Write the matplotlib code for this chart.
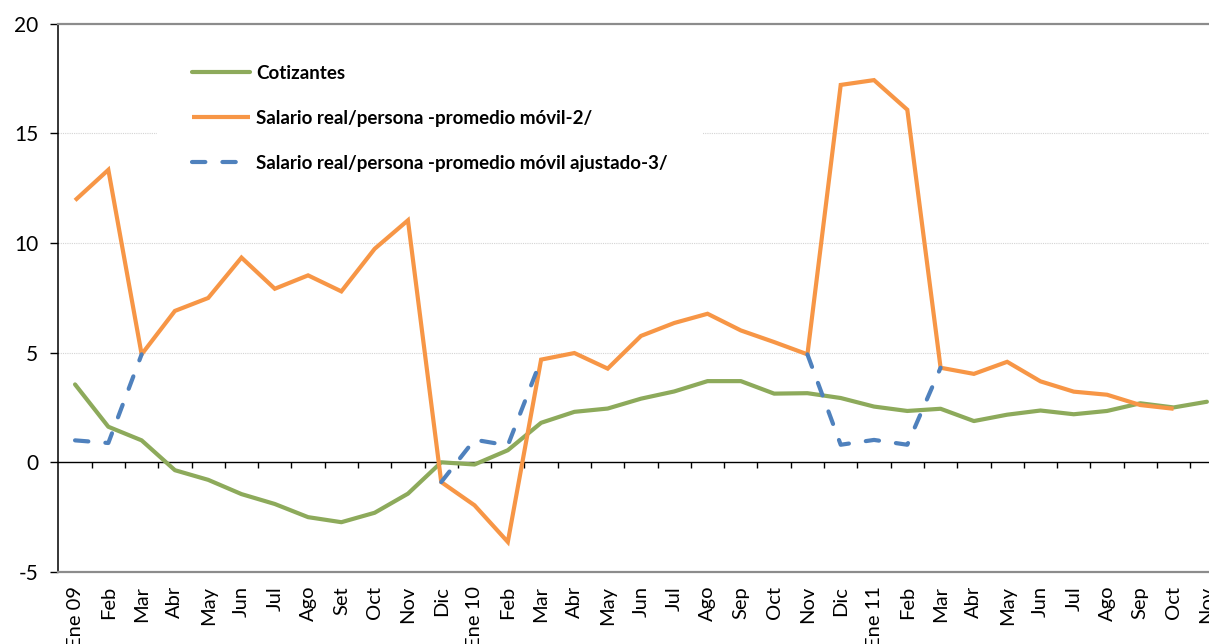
import numpy as np
import matplotlib
matplotlib.use("Agg")
import matplotlib.pyplot as plt

plt.rcParams['font.family'] = ['Lato', 'DejaVu Sans']

months = ["Ene 09", "Feb", "Mar", "Abr", "May", "Jun", "Jul", "Ago", "Set", "Oct", "Nov", "Dic",
          "Ene 10", "Feb", "Mar", "Abr", "May", "Jun", "Jul", "Ago", "Sep", "Oct", "Nov", "Dic",
          "Ene 11", "Feb", "Mar", "Abr", "May", "Jun", "Jul", "Ago", "Sep", "Oct", "Nov"]

cotizantes = [3.55, 1.62, 1.0, -0.36, -0.8, -1.45, -1.9, -2.5, -2.73, -2.3, -1.43, 0.0,
              -0.1, 0.55, 1.8, 2.3, 2.45, 2.9, 3.23, 3.7, 3.7, 3.13, 3.15, 2.93,
              2.54, 2.34, 2.44, 1.88, 2.17, 2.36, 2.19, 2.34, 2.69, 2.5, 2.76]

salario_pm = [11.94, 13.33, 4.92, 6.9, 7.49, 9.33, 7.91, 8.52, 7.79, 9.73, 11.03, -0.9,
              -1.96, -3.63, 4.68, 4.98, 4.27, 5.76, 6.35, 6.77, 6.01, 5.48, 4.92, 17.2,
              17.42, 16.07, 4.31, 4.03, 4.58, 3.69, 3.22, 3.08, 2.61, 2.44, np.nan]

nan = np.nan
salario_aj = [1.0, 0.88, 4.92, nan, nan, nan, nan, nan, nan, nan, nan, -0.9,
              1.03, 0.77, 4.68, nan, nan, nan, nan, nan, nan, nan, 4.92, 0.8,
              1.02, 0.8, 4.31, nan, nan, nan, nan, nan, nan, nan, nan]

labels_legend = ["Cotizantes",
                 "Salario real/persona -promedio móvil-2/",
                 "Salario real/persona -promedio móvil ajustado-3/"]

W, H = 1209, 644
fig = plt.figure(figsize=(W / 100, H / 100), dpi=100)
left_px, right_px, top_px, bottom_px = 58.4, 58.4 + 35 * 33.29, 23.5, 572
ax = fig.add_axes([left_px / W, (H - bottom_px) / H, (right_px - left_px) / W, (bottom_px - top_px) / H])

x = np.arange(len(months))
green = '#8DAA5B'
orange = '#F79646'
blue = '#4F81BD'

ax.plot(x, cotizantes, color=green, lw=3.0, solid_capstyle='round', solid_joinstyle='round',
        label=labels_legend[0], zorder=3)
ax.plot(x, salario_pm, color=orange, lw=3.0, solid_capstyle='butt', solid_joinstyle='miter',
        label=labels_legend[1], zorder=4)
ax.plot(x, salario_aj, color=blue, lw=3.0, linestyle=(0, (3.2, 4.1)), dash_capstyle='round',
        label=labels_legend[2], zorder=5)

ax.set_xlim(-0.5, len(months) - 0.5)
ax.set_ylim(-5, 20)
ax.set_yticks([-5, 0, 5, 10, 15, 20])
ax.set_yticklabels(['-5', '0', '5', '10', '15', '20'], fontsize=15)
ax.tick_params(axis='y', direction='out', length=5.5, width=1, color='black', pad=9)
ax.set_xticks(x)
ax.set_xticklabels(months, rotation=90, fontsize=14.5)
ax.tick_params(axis='x', length=0, pad=10)

for g in [5, 10, 15]:
    ax.axhline(g, color='#d4d4d4', lw=0.8, linestyle=(0, (1, 1)), zorder=1)

ax.spines['right'].set_visible(False)
ax.spines['left'].set_color('black')
ax.spines['left'].set_linewidth(1.1)
ax.spines['top'].set_color('#8c8c8c')
ax.spines['top'].set_linewidth(1.6)
ax.spines['bottom'].set_color('#8c8c8c')
ax.spines['bottom'].set_linewidth(1.6)

# category axis drawn at zero
sec = ax.secondary_xaxis(5 / 25)
sec.set_xticks(x[:-1] + 0.5)
sec.tick_params(axis='x', direction='out', length=4.5, width=1, color='black', labelbottom=False,
                labeltop=False)
for s in sec.spines.values():
    s.set_color('black')
    s.set_linewidth(1.0)

fs = 13.5
leg = ax.legend(loc='upper left', bbox_to_anchor=(157 / W, 1 - 30 / H), bbox_transform=fig.transFigure,
                frameon=True, fancybox=False, framealpha=1, edgecolor='none', facecolor='white',
                prop={'weight': 'bold', 'size': fs}, handlelength=3.1, handletextpad=0.35,
                labelspacing=1.5, borderpad=1.85, borderaxespad=0)
leg.set_zorder(6)

fig.savefig('out.png', dpi=100)
